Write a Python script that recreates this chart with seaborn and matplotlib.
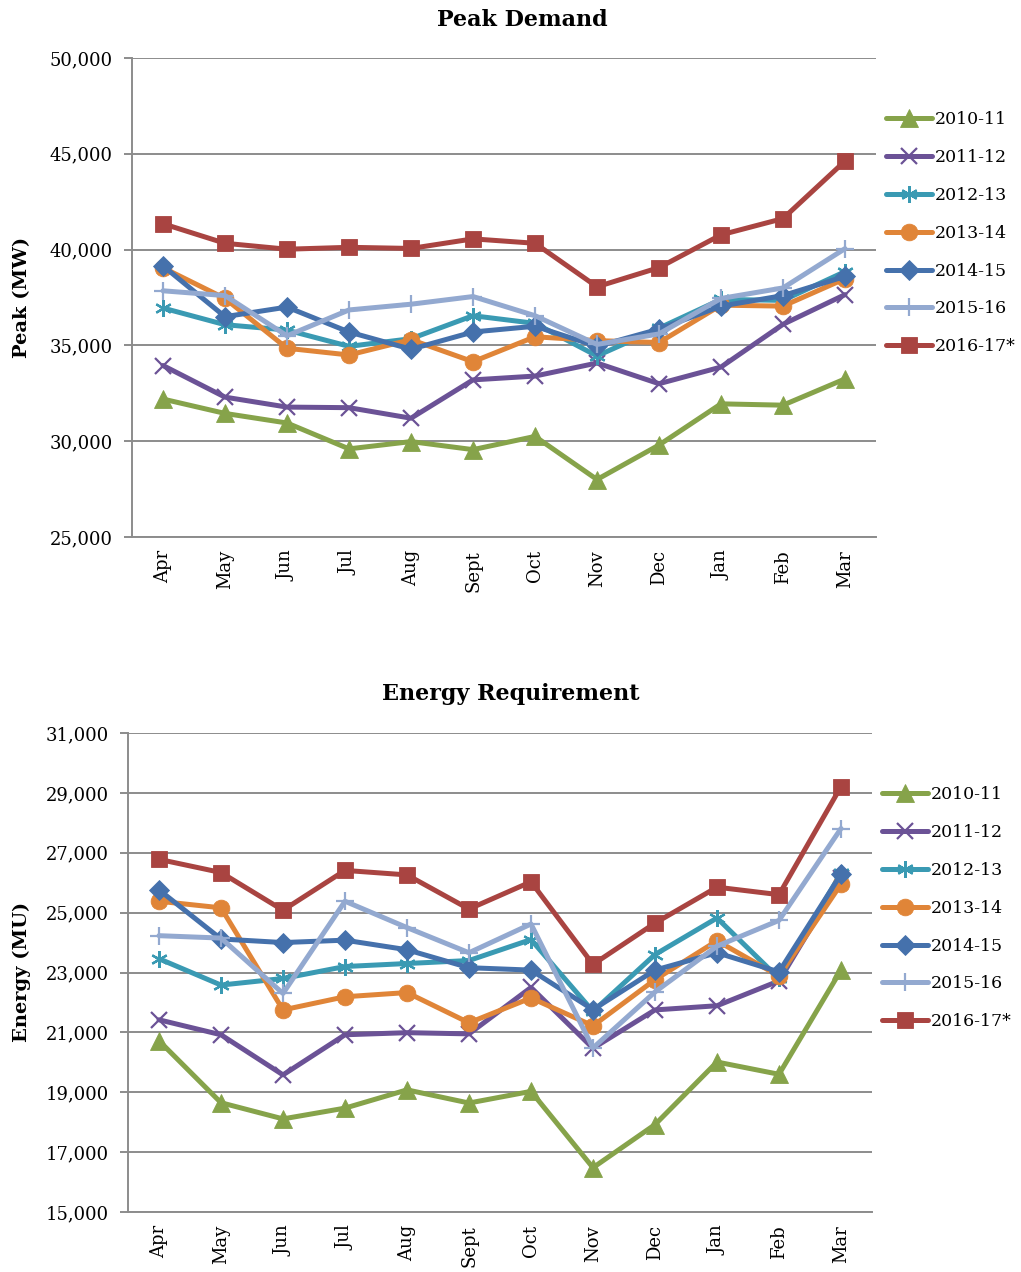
"""
Peak Demand and Energy Requirement by month, 2010-11 to 2016-17
"""

import matplotlib.pyplot as plt
import matplotlib.ticker as mticker
import pandas as pd
import seaborn as sns

sns.set_style("white")
plt.rcParams['font.family'] = ['DejaVu Serif']
plt.rcParams['text.color'] = 'black'
plt.rcParams['xtick.color'] = 'black'
plt.rcParams['ytick.color'] = 'black'

months = ['Apr', 'May', 'Jun', 'Jul', 'Aug', 'Sept', 'Oct', 'Nov', 'Dec', 'Jan', 'Feb', 'Mar']
years = ['2010-11', '2011-12', '2012-13', '2013-14', '2014-15', '2015-16', '2016-17*']

# Peak demand (MW)
peak_2010 = [32200, 31450, 30950, 29600, 29980, 29560, 30250, 28000, 29800, 31950, 31880, 33250]
peak_2011 = [33950, 32300, 31780, 31750, 31200, 33200, 33400, 34080, 33000, 33870, 36100, 37650]
peak_2012 = [36950, 36080, 35800, 34950, 35350, 36550, 36150, 34450, 35900, 37400, 37350, 38850]
peak_2013 = [39050, 37450, 34850, 34500, 35300, 34150, 35450, 35250, 35150, 37100, 37050, 38480]
peak_2014 = [39150, 36500, 37000, 35700, 34800, 35700, 36000, 34950, 35850, 37050, 37600, 38600]
peak_2015 = [37850, 37600, 35500, 36850, 37150, 37550, 36550, 35050, 35600, 37450, 38000, 40050]
peak_2016 = [41350, 40330, 40020, 40120, 40060, 40560, 40330, 38060, 39060, 40770, 41620, 44620]

# Energy requirement (MU)
energy_2010 = [20720, 18650, 18110, 18470, 19080, 18640, 19030, 16480, 17920, 20010, 19600, 23080]
energy_2011 = [21420, 20920, 19580, 20920, 20990, 20950, 22500, 20470, 21750, 21890, 22720, 26150]
energy_2012 = [23460, 22580, 22800, 23200, 23300, 23400, 24100, 21700, 23600, 24820, 22800, 26320]
energy_2013 = [25380, 25160, 21750, 22190, 22330, 21320, 22150, 21220, 22760, 24060, 22880, 25950]
energy_2014 = [25760, 24120, 24000, 24080, 23760, 23160, 23080, 21760, 23080, 23660, 23020, 26280]
energy_2015 = [24230, 24150, 22300, 25380, 24500, 23660, 24620, 20480, 22350, 23880, 24740, 27810]
energy_2016 = [26780, 26340, 25080, 26410, 26260, 25120, 26030, 23270, 24650, 25850, 25600, 29210]

colors = ['#86A34A', '#6B5296', '#3A9AB3', '#E08538', '#4571AC', '#93A9D0', '#A94441']
markers = ['^', 'x', (6, 2, 0), 'o', 'D', '+', 's']
msizes = [12.5, 11, 12, 12, 10, 13, 11.5]


def draw_panel(ax, series, title, ylabel, ylim, yticks, title_xy, ylabel_xy):
    for yr, vals, col, mk, ms in zip(years, series, colors, markers, msizes):
        df = pd.DataFrame({'Month': months, 'Value': vals})
        line_art = mk in ('x', '+') or isinstance(mk, tuple)
        sns.lineplot(data=df, x='Month', y='Value', ax=ax, color=col, lw=3.6,
                     marker=mk, markersize=ms, label=yr,
                     markeredgewidth=1.6 if line_art else 0.6,
                     markeredgecolor=col, sort=False)

    ax.set_xlim(-0.5, len(months) - 0.5)
    ax.set_ylim(*ylim)
    ax.set_yticks(yticks)
    ax.yaxis.set_major_formatter(mticker.StrMethodFormatter('{x:,.0f}'))
    ax.grid(axis='y', color='#8C8C8C', lw=1.4)
    ax.grid(axis='x', visible=False)
    ax.set_axisbelow(True)
    for s in ['top', 'right']:
        ax.spines[s].set_visible(False)
    for s in ['left', 'bottom']:
        ax.spines[s].set_color('#8C8C8C')
        ax.spines[s].set_linewidth(1.4)
    ax.tick_params(axis='y', left=True, length=6, width=1.4, color='#8C8C8C',
                   labelsize=13, pad=8, labelcolor='black')
    ax.tick_params(axis='x', bottom=False, labelsize=13, rotation=90, pad=6,
                   labelcolor='black')
    ax.set_xlabel('')
    ax.set_ylabel('')

    ax.legend(loc='center left', bbox_to_anchor=(1.014, 0.634), frameon=False,
              fontsize=12.5, handlelength=2.6, handletextpad=0.2,
              labelspacing=1.2, borderpad=0, borderaxespad=0, labelcolor='black')

    fig.text(title_xy[0], title_xy[1], title, ha='center', va='center',
             fontsize=16, fontweight='bold', color='black')
    fig.text(ylabel_xy[0], ylabel_xy[1], ylabel, ha='center', va='center',
             rotation=90, fontsize=14, fontweight='bold', color='black')


W, H = 1021, 1272
fig = plt.figure(figsize=(W / 100, H / 100), dpi=100)
ax1 = fig.add_axes([132 / W, 1 - 537 / H, 744 / W, 479 / H])
ax2 = fig.add_axes([128 / W, 1 - 1212 / H, 744 / W, 479 / H])

draw_panel(ax1,
           [peak_2010, peak_2011, peak_2012, peak_2013, peak_2014, peak_2015, peak_2016],
           'Peak Demand', 'Peak (MW)', (25000, 50000),
           list(range(25000, 50001, 5000)),
           (522 / W, 1 - 20 / H), (22 / W, 1 - 297 / H))

draw_panel(ax2,
           [energy_2010, energy_2011, energy_2012, energy_2013, energy_2014, energy_2015, energy_2016],
           'Energy Requirement', 'Energy (MU)', (15000, 31000),
           list(range(15000, 31001, 2000)),
           (511 / W, 1 - 694 / H), (22 / W, 1 - 972 / H))

fig.savefig('out.png', dpi=100)
plt.close(fig)
